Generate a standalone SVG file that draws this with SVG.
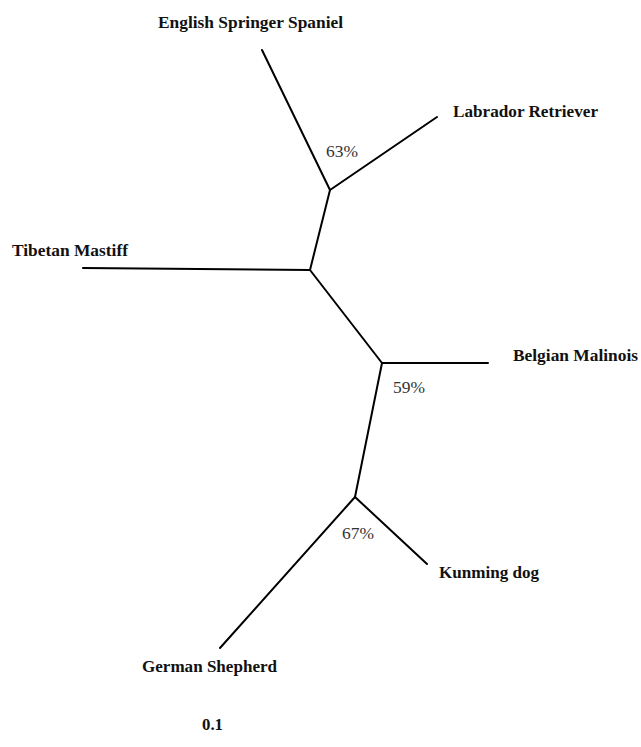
<svg xmlns="http://www.w3.org/2000/svg" width="641" height="747" viewBox="0 0 641 747">
<style>
.b{stroke:#000;stroke-width:2;fill:none;stroke-linecap:round}
.lab{font-family:"Liberation Serif","Times New Roman",serif;font-weight:bold;font-size:16px;fill:#111}
.pct{font-family:"Liberation Serif","Times New Roman",serif;font-size:16px;fill:#333}
</style>
<rect width="641" height="747" fill="#fff"/>
<g id="connectors">
<line class="b" x1="262" y1="50" x2="330" y2="190"/>
<line class="b" x1="437" y1="117" x2="330" y2="190"/>
<line class="b" x1="330" y1="190" x2="310" y2="270"/>
<line class="b" x1="83" y1="268" x2="310" y2="270"/>
<line class="b" x1="310" y1="270" x2="382" y2="363"/>
<line class="b" x1="382" y1="363" x2="488" y2="363"/>
<line class="b" x1="382" y1="363" x2="355" y2="497"/>
<line class="b" x1="355" y1="497" x2="427" y2="564"/>
<line class="b" x1="355" y1="497" x2="220" y2="648"/>
</g>
<g id="node-ess"><text class="lab" x="158" y="28" textLength="185" lengthAdjust="spacingAndGlyphs">English Springer Spaniel</text></g>
<g id="node-lab"><text class="lab" x="453" y="117" textLength="145" lengthAdjust="spacingAndGlyphs">Labrador Retriever</text></g>
<g id="node-tib"><text class="lab" x="12" y="256" textLength="116" lengthAdjust="spacingAndGlyphs">Tibetan Mastiff</text></g>
<g id="node-bel"><text class="lab" x="513" y="361" textLength="125" lengthAdjust="spacingAndGlyphs">Belgian Malinois</text></g>
<g id="node-kun"><text class="lab" x="439" y="578" textLength="100" lengthAdjust="spacingAndGlyphs">Kunming dog</text></g>
<g id="node-ger"><text class="lab" x="142" y="672" textLength="135" lengthAdjust="spacingAndGlyphs">German Shepherd</text></g>
<g id="scale"><text class="lab" x="202" y="730" textLength="21" lengthAdjust="spacingAndGlyphs">0.1</text></g>
<g id="support">
<text class="pct" x="326" y="157" textLength="32" lengthAdjust="spacingAndGlyphs">63%</text>
<text class="pct" x="393" y="393" textLength="32" lengthAdjust="spacingAndGlyphs">59%</text>
<text class="pct" x="342" y="539" textLength="32" lengthAdjust="spacingAndGlyphs">67%</text>
</g>
</svg>
